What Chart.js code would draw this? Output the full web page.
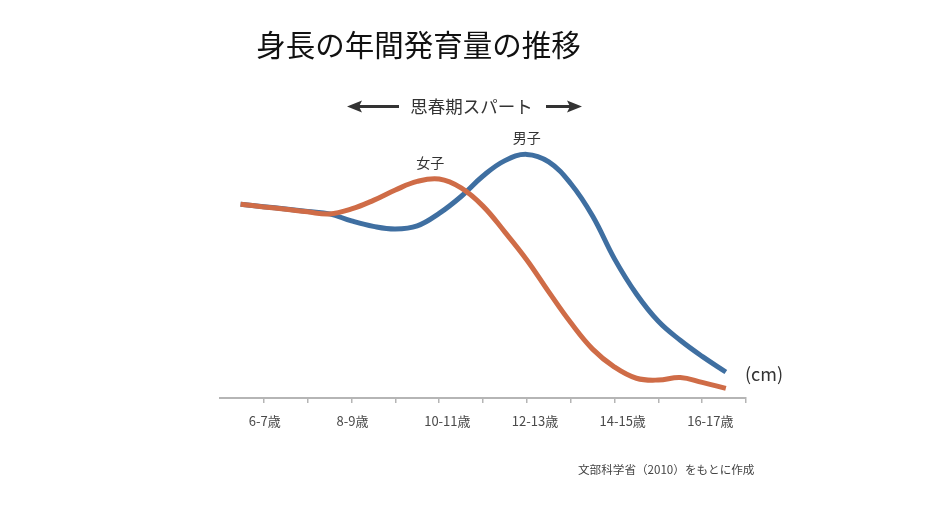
<!DOCTYPE html>
<html lang="ja">
<head>
<meta charset="utf-8">
<script src="https://cdn.jsdelivr.net/npm/chart.js@4/dist/chart.umd.min.js"></script>
<style>
  html, body { margin: 0; padding: 0; background: #ffffff; }
  #wrap { width: 937px; height: 512px; position: relative; }
</style>
</head>
<body>
<div id="wrap"><canvas id="c" width="937" height="512"></canvas></div>
<script>
// ---- data ----
const titleText = '身長の年間発育量の推移';
const spurtText = '思春期スパート';
const sourceText = '文部科学省（2010）をもとに作成';
const unitText = '(cm)';
const boysLabel = '男子';
const girlsLabel = '女子';

const tickValues = [6.5, 7.5, 8.5, 9.5, 10.5, 11.5, 12.5, 13.5, 14.5, 15.5, 16.5, 17.5];
const ageLabels = ['6-7歳', '', '8-9歳', '', '10-11歳', '', '12-13歳', '', '14-15歳', '', '16-17歳', ''];

// age (years) at which each curve value was read
const ages  = [5.97, 6.5, 7.0, 7.5, 8.0, 8.5, 9.0, 9.5, 10.0, 10.5, 11.0, 11.5, 12.0, 12.5, 13.0, 13.5, 14.0, 14.5, 15.0, 15.5, 16.0, 16.5, 17.04];
const boys  = [7.45, 7.36, 7.27, 7.17, 7.08, 6.81, 6.60, 6.50, 6.62, 7.10, 7.75, 8.54, 9.13, 9.37, 9.08, 8.25, 7.00, 5.35, 4.00, 2.95, 2.22, 1.60, 1.00];
const girls = [7.45, 7.35, 7.26, 7.16, 7.08, 7.27, 7.60, 8.00, 8.33, 8.42, 8.08, 7.38, 6.38, 5.31, 4.08, 2.90, 1.88, 1.19, 0.76, 0.69, 0.79, 0.60, 0.37];

const FONT = '"Noto Sans CJK JP", "Noto Sans", sans-serif';

function toPoints(xs, ys) { return xs.map((x, i) => ({ x: x, y: ys[i] })); }

const annotations = {
  id: 'annotations',
  afterDraw(chart) {
    const ctx = chart.ctx;
    const xs = chart.scales.x, ys = chart.scales.y;
    ctx.save();
    ctx.textBaseline = 'middle';
    ctx.textAlign = 'center';

    // title
    ctx.fillStyle = '#111111';
    ctx.font = '29.5px ' + FONT;
    ctx.fillText(titleText, 418.5, 45);

    // spurt label with arrows
    ctx.fillStyle = '#333333';
    ctx.font = '17.5px ' + FONT;
    ctx.fillText(spurtText, 471.5, 106);
    ctx.strokeStyle = '#333333';
    ctx.lineWidth = 3;
    const ay = 106.5;
    ctx.beginPath(); ctx.moveTo(358, ay); ctx.lineTo(399, ay); ctx.stroke();
    ctx.beginPath(); ctx.moveTo(347, ay); ctx.lineTo(362, ay - 6); ctx.lineTo(359, ay); ctx.lineTo(362, ay + 6); ctx.closePath(); ctx.fill();
    ctx.beginPath(); ctx.moveTo(546, ay); ctx.lineTo(571, ay); ctx.stroke();
    ctx.beginPath(); ctx.moveTo(582, ay); ctx.lineTo(567, ay - 6); ctx.lineTo(570, ay); ctx.lineTo(567, ay + 6); ctx.closePath(); ctx.fill();

    // series labels near peaks
    ctx.font = '14px ' + FONT;
    ctx.fillStyle = '#333333';
    const bi = boys.indexOf(Math.max(...boys));
    const gi = girls.indexOf(Math.max(...girls));
    ctx.fillText(boysLabel, xs.getPixelForValue(ages[bi]), ys.getPixelForValue(boys[bi]) - 17);
    ctx.fillText(girlsLabel, xs.getPixelForValue(ages[gi]) - 9, ys.getPixelForValue(girls[gi]) - 16);

    // unit
    ctx.font = '18px ' + FONT;
    ctx.textAlign = 'left';
    ctx.fillText(unitText, 745, 374);

    // source
    ctx.font = '11.6px ' + FONT;
    ctx.fillStyle = '#444444';
    ctx.fillText(sourceText, 578, 470);
    ctx.restore();
  }
};

new Chart(document.getElementById('c'), {
  type: 'line',
  data: {
    datasets: [
      {
        label: girlsLabel,
        data: toPoints(ages, girls),
        borderColor: '#cf6c47',
        borderWidth: 5,
        pointRadius: 0,
        tension: 0.4,
        fill: false
      },
      {
        label: boysLabel,
        data: toPoints(ages, boys),
        borderColor: '#3f6fa1',
        borderWidth: 5,
        pointRadius: 0,
        tension: 0.4,
        fill: false
      }
    ]
  },
  options: {
    responsive: false,
    animation: false,
    devicePixelRatio: 1,
    layout: { padding: { left: 220, right: 191, top: 138, bottom: 0 } },
    plugins: {
      legend: { display: false },
      title: { display: false },
      tooltip: { enabled: false }
    },
    scales: {
      x: {
        type: 'linear',
        min: 5.5,
        max: 17.5,
        afterBuildTicks(scale) { scale.ticks = tickValues.map(v => ({ value: v })); },
        afterFit(scale) { scale.height = 114; },
        border: { display: true, color: '#b5b5b5', width: 2 },
        grid: { display: true, drawOnChartArea: false, drawTicks: true, tickLength: 5, color: '#b5b5b5', lineWidth: 1.5 },
        ticks: {
          autoSkip: false,
          maxRotation: 0,
          padding: 10,
          align: 'start',
          labelOffset: -15,
          color: '#4a4a4a',
          font: { size: 13, family: FONT },
          callback(value) {
            const i = tickValues.indexOf(value);
            return i >= 0 ? ageLabels[i] : '';
          }
        }
      },
      y: {
        display: false,
        min: 0,
        max: 10
      }
    }
  },
  plugins: [annotations]
});
</script>
</body>
</html>
